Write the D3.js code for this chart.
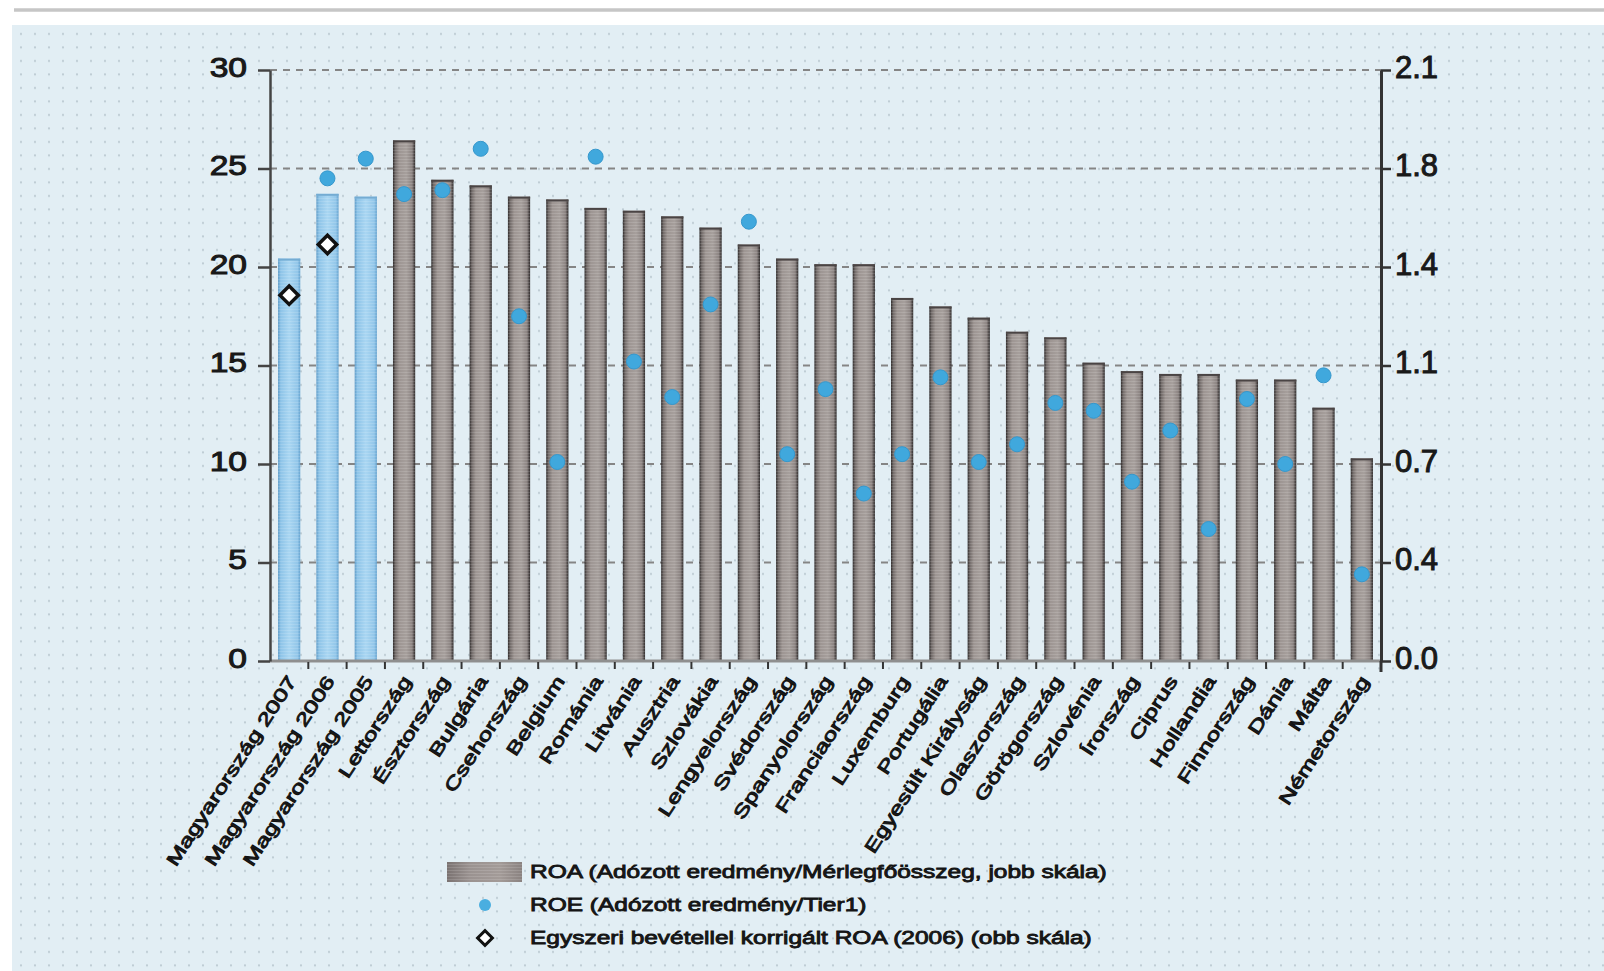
<!DOCTYPE html>
<html>
<head>
  <meta charset="utf-8">
  <script src="https://cdn.jsdelivr.net/npm/d3@7"></script>
  <style>
    body { margin: 0; background: #fff; overflow: hidden; }
    text { font-family: "Liberation Sans", Arial, sans-serif; fill: #1b1b1b; }
  </style>
</head>
<body>
<svg id="chart" width="1604" height="971"></svg>
<script>
  // DATA (bars: ROA on right scale, dots: ROE on left scale)
  var categories = ["Magyarország 2007", "Magyarország 2006", "Magyarország 2005", "Lettország", "Észtország",
    "Bulgária", "Csehország", "Belgium", "Románia", "Litvánia", "Ausztria", "Szlovákia", "Lengyelország",
    "Svédország", "Spanyolország", "Franciaország", "Luxemburg", "Portugália", "Egyesült Királyság",
    "Olaszország", "Görögország", "Szlovénia", "Írország", "Ciprus", "Hollandia", "Finnország", "Dánia",
    "Málta", "Németország"];
  var roa = [1.43, 1.66, 1.65, 1.85, 1.71, 1.69, 1.65, 1.64, 1.61, 1.60, 1.58, 1.54, 1.48,
    1.43, 1.41, 1.41, 1.29, 1.26, 1.22, 1.17, 1.15, 1.06, 1.03, 1.02, 1.02, 1.00, 1.00, 0.90, 0.72];
  var roe = [null, 24.5, 25.5, 23.7, 23.9, 26.0, 17.5, 10.1, 25.6, 15.2, 13.4, 18.1, 22.3,
    10.5, 13.8, 8.5, 10.5, 14.4, 10.1, 11.0, 13.1, 12.7, 9.1, 11.7, 6.7, 13.3, 10.0, 14.5, 4.4];
  var roaAdjusted = [1.30, 1.48, null, null, null, null, null, null, null, null, null, null, null,
    null, null, null, null, null, null, null, null, null, null, null, null, null, null, null, null];
  var highlighted = ["Magyarország 2007", "Magyarország 2006", "Magyarország 2005"];
  var leftTicks = [0, 5, 10, 15, 20, 25, 30];
  var rightTickLabels = ["0.0", "0.4", "0.7", "1.1", "1.4", "1.8", "2.1"];
  var legendLabels = ["ROA (Adózott eredmény/Mérlegfőösszeg, jobb skála)",
    "ROE (Adózott eredmény/Tier1)",
    "Egyszeri bevétellel korrigált ROA (2006) (obb skála)"];

  var svg = d3.select("#chart");
  var defs = svg.append("defs");

  // background dots
  var dots = defs.append("pattern").attr("id", "dots").attr("patternUnits", "userSpaceOnUse")
    .attr("width", 14).attr("height", 13.5);
  dots.append("circle").attr("cx", 7).attr("cy", 7).attr("r", 1.1).attr("fill", "#bccad2");

  var stripes = defs.append("pattern").attr("id", "stripes").attr("patternUnits", "userSpaceOnUse")
    .attr("width", 4).attr("height", 3);
  stripes.append("rect").attr("width", 4).attr("height", 1).attr("fill", "#fff").attr("opacity", 0.13);

  function gradient(id, stops) {
    var g = defs.append("linearGradient").attr("id", id).attr("x1", 0).attr("x2", 1).attr("y1", 0).attr("y2", 0);
    stops.forEach(function(s) { g.append("stop").attr("offset", s[0]).attr("stop-color", s[1]); });
  }
  gradient("grayBar", [[0, "#2e2a2a"], [0.1, "#726b69"], [0.28, "#9d9592"], [0.6, "#a69f9c"], [0.86, "#8c8482"], [1, "#2e2a2a"]]);
  gradient("blueBar", [[0, "#5f9cc8"], [0.12, "#8ec4e8"], [0.5, "#a9d6f2"], [0.88, "#92c6e9"], [1, "#64a2cf"]]);
  gradient("legendGray", [[0, "#7a7271"], [0.3, "#9a9290"], [0.7, "#a39b98"], [1, "#8a8280"]]);

  // page frame
  svg.append("line").attr("x1", 14).attr("x2", 1604).attr("y1", 10).attr("y2", 10)
    .attr("stroke", "#c6c6c6").attr("stroke-width", 3.5);
  svg.append("rect").attr("x", 12).attr("y", 25).attr("width", 1592).attr("height", 946).attr("fill", "#e2eef4");
  svg.append("rect").attr("x", 12).attr("y", 25).attr("width", 1592).attr("height", 946).attr("fill", "url(#dots)");

  // scales
  var plotLeft = 270, plotRight = 1381, plotTop = 70, plotBottom = 661;
  var x = d3.scaleBand().domain(categories).range([plotLeft, plotRight]).paddingInner(0.42).paddingOuter(0.21);
  var yL = d3.scaleLinear().domain([0, 30]).range([plotBottom, plotTop]);
  var yR = d3.scaleLinear().domain([0, 2.1]).range([plotBottom, plotTop]);

  // gridlines
  svg.selectAll(".grid").data(leftTicks.slice(1)).enter().append("line")
    .attr("class", "grid")
    .attr("x1", plotLeft).attr("x2", plotRight)
    .attr("y1", function(d) { return yL(d); }).attr("y2", function(d) { return yL(d); })
    .attr("stroke", "#858585").attr("stroke-width", 2.2).attr("stroke-dasharray", "7,6");

  // bars
  var data = categories.map(function(c, i) { return {cat: c, roa: roa[i], roe: roe[i], adj: roaAdjusted[i]}; });
  svg.selectAll(".bar").data(data).enter().append("rect")
    .attr("class", "bar")
    .attr("x", function(d) { return x(d.cat); })
    .attr("width", x.bandwidth())
    .attr("y", function(d) { return yR(d.roa); })
    .attr("height", function(d) { return plotBottom - yR(d.roa); })
    .attr("fill", function(d) { return highlighted.indexOf(d.cat) >= 0 ? "url(#blueBar)" : "url(#grayBar)"; });
  svg.selectAll(".barTex").data(data).enter().append("rect")
    .attr("class", "barTex")
    .attr("x", function(d) { return x(d.cat); })
    .attr("width", x.bandwidth())
    .attr("y", function(d) { return yR(d.roa); })
    .attr("height", function(d) { return plotBottom - yR(d.roa); })
    .attr("fill", "url(#stripes)");
  svg.selectAll(".barTop").data(data).enter().append("line")
    .attr("class", "barTop")
    .attr("x1", function(d) { return x(d.cat); })
    .attr("x2", function(d) { return x(d.cat) + x.bandwidth(); })
    .attr("y1", function(d) { return yR(d.roa) + 1; })
    .attr("y2", function(d) { return yR(d.roa) + 1; })
    .attr("stroke", function(d) { return highlighted.indexOf(d.cat) >= 0 ? "#74acd3" : "#4a4444"; })
    .attr("stroke-width", 2);

  // baseline and category ticks
  svg.append("line").attr("x1", plotLeft).attr("x2", plotRight).attr("y1", plotBottom).attr("y2", plotBottom)
    .attr("stroke", "#8f8f8f").attr("stroke-width", 3);
  svg.selectAll(".xtick").data(categories.slice(1)).enter().append("line")
    .attr("class", "xtick")
    .attr("x1", function(d) { return x(d) - x.step() * x.paddingInner() / 2; })
    .attr("x2", function(d) { return x(d) - x.step() * x.paddingInner() / 2; })
    .attr("y1", plotBottom + 1).attr("y2", plotBottom + 8)
    .attr("stroke", "#333").attr("stroke-width", 2);

  // left axis
  var axL = svg.append("g").attr("transform", "translate(" + plotLeft + ",0)")
    .call(d3.axisLeft(yL).tickValues(leftTicks).tickSize(12).tickSizeOuter(0));
  axL.select(".domain").attr("stroke", "#444").attr("stroke-width", 2.5);
  axL.selectAll(".tick line").attr("stroke", "#444").attr("stroke-width", 2.5);
  axL.selectAll(".tick text")
    .attr("x", 0).attr("dy", 6)
    .attr("transform", "translate(-23,0) scale(1.2,1)")
    .attr("font-size", 28).attr("text-anchor", "end")
    .attr("font-family", "Liberation Sans, Arial, sans-serif")
    .attr("fill", "#161616").attr("stroke", "#161616").attr("stroke-width", 1);

  // right axis
  var axR = svg.append("g").attr("transform", "translate(" + plotRight + ",0)")
    .call(d3.axisRight(yR)
      .tickValues(leftTicks.map(function(v) { return v * 0.07; }))
      .tickFormat(function(d, i) { return rightTickLabels[i]; })
      .tickSize(10).tickSizeOuter(0));
  axR.select(".domain").attr("stroke", "#333").attr("stroke-width", 3);
  axR.selectAll(".tick line").attr("stroke", "#333").attr("stroke-width", 2.5);
  axR.selectAll(".tick text")
    .attr("x", 14).attr("dy", 7)
    .attr("font-size", 31).attr("text-anchor", "start")
    .attr("font-family", "Liberation Sans, Arial, sans-serif")
    .attr("fill", "#161616").attr("stroke", "#161616").attr("stroke-width", 1);
  svg.append("line").attr("x1", plotRight).attr("x2", plotRight).attr("y1", plotBottom).attr("y2", plotBottom + 11)
    .attr("stroke", "#333").attr("stroke-width", 3);

  // ROE dots
  svg.selectAll(".roe").data(data.filter(function(d) { return d.roe != null; })).enter().append("circle")
    .attr("class", "roe")
    .attr("cx", function(d) { return x(d.cat) + x.bandwidth() / 2; })
    .attr("cy", function(d) { return yL(d.roe); })
    .attr("r", 7.5)
    .attr("fill", "#40a8dd").attr("stroke", "#3597cc").attr("stroke-width", 1);

  // corrected ROA diamonds
  var diamond = d3.symbol().type(d3.symbolSquare).size(170);
  svg.selectAll(".adj").data(data.filter(function(d) { return d.adj != null; })).enter().append("path")
    .attr("class", "adj")
    .attr("d", diamond)
    .attr("transform", function(d) {
      return "translate(" + (x(d.cat) + x.bandwidth() / 2) + "," + yR(d.adj) + ") rotate(45)";
    })
    .attr("fill", "#fff").attr("stroke", "#111").attr("stroke-width", 3.5);

  // category labels
  svg.selectAll(".xlabel").data(categories).enter().append("text")
    .attr("class", "xlabel")
    .attr("transform", function(d) {
      return "translate(" + (x(d) + x.bandwidth() / 2 + 8) + "," + (plotBottom + 20) + ") rotate(-57) scale(1.4,1)";
    })
    .attr("text-anchor", "end")
    .attr("font-size", 18)
    .attr("fill", "#111").attr("stroke", "#111").attr("stroke-width", 0.9)
    .text(function(d) { return d; });

  // legend
  var legendY = [872, 905, 938];
  var lg = svg.append("g");
  lg.append("rect").attr("x", 447).attr("y", legendY[0] - 10).attr("width", 75).attr("height", 20)
    .attr("fill", "url(#legendGray)");
  lg.append("rect").attr("x", 447).attr("y", legendY[0] - 10).attr("width", 75).attr("height", 20)
    .attr("fill", "url(#stripes)");
  lg.append("circle").attr("cx", 485).attr("cy", legendY[1]).attr("r", 6).attr("fill", "#4aaee0");
  lg.append("path").attr("d", d3.symbol().type(d3.symbolSquare).size(110))
    .attr("transform", "translate(485," + legendY[2] + ") rotate(45)")
    .attr("fill", "#fff").attr("stroke", "#111").attr("stroke-width", 3);
  lg.selectAll(".ltext").data(legendLabels).enter().append("text")
    .attr("class", "ltext")
    .attr("transform", function(d, i) { return "translate(530," + (legendY[i] + 6) + ") scale(1.4,1)"; })
    .attr("font-size", 17.5)
    .attr("fill", "#111").attr("stroke", "#111").attr("stroke-width", 0.8)
    .text(function(d) { return d; });
</script>
</body>
</html>
